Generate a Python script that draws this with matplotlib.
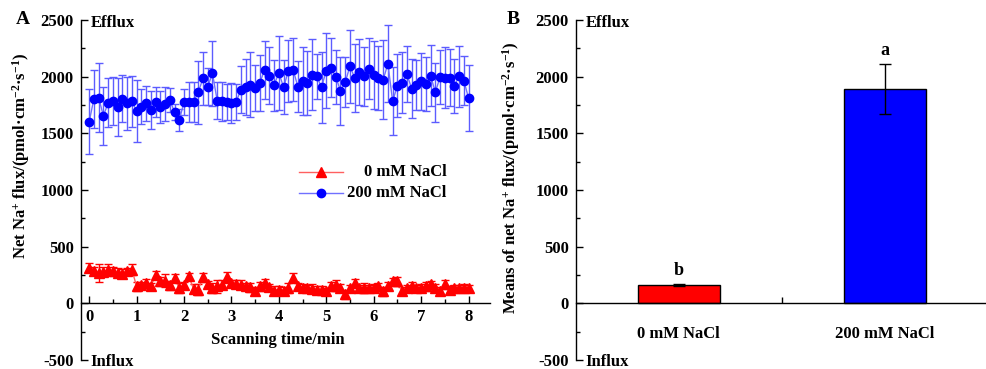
import matplotlib
matplotlib.use("Agg")
import matplotlib.pyplot as plt
from matplotlib.ticker import MultipleLocator, FixedLocator
import numpy as np

# Net Na+ flux over scanning time (one reading every 0.1 min).
time_min = np.round(np.arange(0, 8.01, 0.1), 1)

flux_0mM = [315, 289, 268, 277, 297, 283, 268, 260, 283, 297,
            150, 158, 178, 150, 250, 195, 200, 158, 225, 135,
            158, 238, 130, 122, 230, 170, 135, 150, 165, 230,
            178, 170, 165, 150, 140, 112, 150, 178, 140, 112,
            122, 112, 135, 225, 150, 135, 135, 130, 122, 122,
            105, 150, 158, 135, 82, 135, 178, 135, 135, 135,
            135, 150, 105, 150, 195, 195, 105, 135, 150, 135,
            135, 150, 170, 135, 112, 170, 122, 135, 135, 135,
            135]
err_0mM = [40, 35, 80, 40, 50, 40, 40, 40, 30, 50,
           40, 30, 35, 30, 35, 40, 60, 40, 30, 40,
           30, 30, 40, 50, 40, 30, 40, 60, 40, 50,
           30, 35, 40, 30, 40, 30, 40, 35, 30, 40,
           30, 35, 40, 40, 30, 35, 30, 40, 30, 35,
           30, 40, 45, 35, 40, 30, 35, 30, 40, 30,
           35, 30, 40, 35, 30, 40, 35, 30, 40, 30,
           35, 40, 30, 35, 30, 40, 35, 30, 30, 35,
           30]

flux_200mM = [1603, 1806, 1815, 1653, 1770, 1785, 1735, 1806, 1765, 1785,
              1697, 1735, 1765, 1706, 1777, 1730, 1760, 1794, 1690, 1617,
              1776, 1776, 1776, 1862, 1985, 1912, 2028, 1789, 1783, 1777,
              1765, 1777, 1886, 1910, 1930, 1900, 1945, 2063, 2010, 1925,
              2034, 1907, 2050, 2063, 1913, 1966, 1945, 2018, 2004, 1907,
              2054, 2077, 1999, 1876, 1951, 2092, 1989, 2039, 2004, 2071,
              2013, 1989, 1974, 2113, 1783, 1921, 1945, 2024, 1895, 1930,
              1960, 1936, 2010, 1863, 1995, 1990, 1990, 1916, 2004, 1966,
              1813]
err_200mM = [285, 255, 305, 260, 215, 210, 255, 210, 235, 225,
             275, 155, 155, 165, 130, 140, 150, 110, 70, 100,
             115, 177, 177, 280, 235, 165, 290, 160, 170, 160,
             175, 160, 210, 250, 290, 200, 245, 256, 250, 224,
             325, 240, 275, 280, 222, 300, 285, 313, 200, 312,
             330, 260, 240, 300, 220, 320, 300, 290, 260, 270,
             300, 280, 350, 340, 300, 280, 270, 250, 260, 220,
             250, 240, 270, 260, 240, 270, 250, 240, 270, 220,
             290]

# Means per treatment
treatments = ["0 mM NaCl", "200 mM NaCl"]
mean_flux = [160, 1890]
mean_err = [8, 222]
sig_letters = ["b", "a"]

RED = "#ff0000"
BLUE = "#0000ff"
FS = 12

plt.rcParams["font.family"] = ["Liberation Serif", "DejaVu Serif"]
plt.rcParams["font.weight"] = "bold"
plt.rcParams["axes.unicode_minus"] = False
plt.rcParams["mathtext.fontset"] = "custom"
plt.rcParams["mathtext.rm"] = "Liberation Serif:bold"
plt.rcParams["mathtext.it"] = "Liberation Serif:bold"
plt.rcParams["mathtext.bf"] = "Liberation Serif:bold"
plt.rcParams["mathtext.default"] = "rm"

fig = plt.figure(figsize=(9.86, 3.69), dpi=100)
ax_a = fig.add_axes([0.0818, 0.0244, 0.415, 0.9214])
ax_b = fig.add_axes([0.5839, 0.0244, 0.418, 0.9214])


def style_y(ax):
    ax.set_ylim(-500, 2500)
    ax.yaxis.set_major_locator(MultipleLocator(500))
    ax.yaxis.set_minor_locator(MultipleLocator(250))
    ax.spines["top"].set_visible(False)
    ax.spines["right"].set_visible(False)
    ax.spines["bottom"].set_position(("data", 0))
    for s in ("left", "bottom"):
        ax.spines[s].set_linewidth(1.0)
    ax.tick_params(axis="y", which="major", direction="in", length=5, width=1,
                   labelsize=FS, pad=5)
    ax.tick_params(axis="y", which="minor", direction="in", length=3, width=1)
    for t in ax.get_yticklabels():
        t.set_fontweight("bold")
    ax.text(0.024, 0.991, "Efflux", transform=ax.transAxes, fontsize=FS,
            fontweight="bold", ha="left", va="center")
    ax.text(0.024, -0.006, "Influx", transform=ax.transAxes, fontsize=FS,
            fontweight="bold", ha="left", va="center")


# Panel A: time course
ax = ax_a
ax.errorbar(time_min, flux_200mM, yerr=err_200mM, fmt="none", ecolor="#5c5cff",
            elinewidth=1, capsize=3, capthick=1, zorder=2)
ax.plot(time_min, flux_200mM, color="#7070ff", lw=1, marker="o", ms=6,
        mfc=BLUE, mec=BLUE, zorder=3)
ax.errorbar(time_min, flux_0mM, yerr=err_0mM, fmt="none", ecolor=RED,
            elinewidth=1, capsize=3, capthick=1, zorder=2)
ax.plot(time_min, flux_0mM, color="#ff6060", lw=1, marker="^", ms=6.5,
        mfc=RED, mec=RED, zorder=3)
ax.set_xlim(-0.18, 8.45)
ax.xaxis.set_major_locator(FixedLocator(range(0, 9)))
ax.xaxis.set_minor_locator(FixedLocator(np.arange(0.5, 8.5, 1.0)))
ax.tick_params(axis="x", which="major", direction="in", length=5, width=1,
               labelsize=FS, pad=4)
ax.tick_params(axis="x", which="minor", direction="in", length=3, width=1)
style_y(ax)
ax.set_xlabel("Scanning time/min", fontsize=FS, fontweight="bold")
ax.xaxis.set_label_coords(0.482, 0.082)
ax.set_ylabel(r"Net Na$^{+}$ flux/(pmol·cm$^{-2}$·s$^{-1}$)", fontsize=FS,
              fontweight="bold")
ax.yaxis.set_label_coords(-0.119, 0.60)

# manual legend with right-aligned labels
leg_rows = [(0.554, RED, "#ff6060", "^", treatments[0]),
            (0.490, BLUE, "#7070ff", "o", treatments[1])]
for ly, mcol, lcol, mk, lab in leg_rows:
    ax.plot([0.534, 0.640], [ly, ly], color=lcol, lw=1, transform=ax.transAxes)
    ax.plot([0.587], [ly], marker=mk, ms=6.5 if mk == "^" else 6, color=mcol,
            transform=ax.transAxes)
    ax.text(0.894, ly, lab, transform=ax.transAxes, ha="right", va="center",
            fontsize=FS, fontweight="bold")

fig.text(0.0228, 0.946, "A", fontsize=14, fontweight="bold", ha="center", va="center")

# Panel B: means
ax = ax_b
pos = [1, 2]
ax.bar(pos, mean_flux, width=0.4, color=[RED, BLUE], edgecolor="black",
       linewidth=1, zorder=2)
ax.errorbar(pos, mean_flux, yerr=mean_err, fmt="none", ecolor="black",
            elinewidth=1, capsize=4, capthick=1, zorder=3)
for p, m, e, lt in zip(pos, mean_flux, mean_err, sig_letters):
    ax.text(p, m + e + 120, lt, ha="center", va="center", fontsize=13,
            fontweight="bold")
ax.set_xlim(0.5, 2.5)
ax.set_xticks(pos, labels=treatments)
ax.xaxis.set_minor_locator(FixedLocator([1.5]))
ax.tick_params(axis="x", which="major", length=0, labelsize=FS, pad=16)
ax.tick_params(axis="x", which="minor", direction="in", length=4, width=1)
style_y(ax)
ax.set_ylabel(r"Means of net Na$^{+}$ flux/(pmol·cm$^{-2}$·s$^{-1}$)",
              fontsize=FS, fontweight="bold")
ax.yaxis.set_label_coords(-0.131, 0.535)

fig.text(0.520, 0.946, "B", fontsize=14, fontweight="bold", ha="center", va="center")

fig.savefig("out.png", dpi=100)
